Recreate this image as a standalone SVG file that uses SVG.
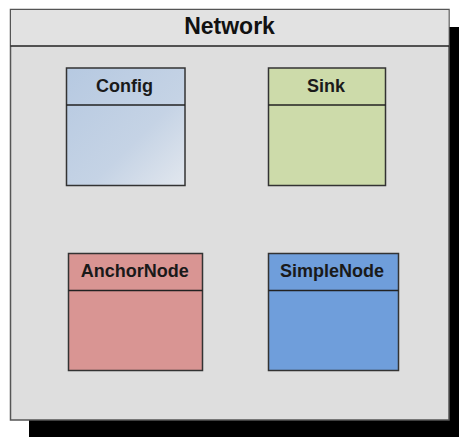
<svg xmlns="http://www.w3.org/2000/svg" width="459" height="437" viewBox="0 0 459 437">
  <defs>
    <linearGradient id="cfgFill" x1="0" y1="0" x2="1" y2="1">
      <stop offset="0" stop-color="#b6c9e1"/>
      <stop offset="0.6" stop-color="#c5d3e5"/>
      <stop offset="1" stop-color="#e2e7ee"/>
    </linearGradient>
  </defs>
  <style>
    .frame { fill: #dedede; stroke: #555; stroke-width: 1.5; }
    .shadow { fill: #000; }
    .box { stroke: #333; stroke-width: 1.5; }
    .sep { stroke: #222; stroke-width: 1.5; }
    .title { font-family: "Liberation Sans", Arial, sans-serif; font-weight: bold; font-size: 23px; fill: #111; text-anchor: middle; }
    .label { font-family: "Liberation Sans", Arial, sans-serif; font-weight: bold; font-size: 18px; fill: #1a1a1a; text-anchor: middle; }
  </style>

  <!-- package frame with drop shadow -->
  <g id="network">
    <rect class="shadow" x="29" y="27" width="440" height="412"/>
    <rect class="frame" x="10.5" y="9.5" width="438.5" height="410.5"/>
    <rect x="11" y="10" width="437.5" height="36" fill="#e2e2e2"/>
    <line class="sep" x1="10.5" y1="46" x2="449" y2="46"/>
    <text class="title" x="229.5" y="34">Network</text>
  </g>

  <g id="config">
    <rect class="box" x="66.5" y="68" width="118.5" height="117.5" fill="url(#cfgFill)"/>
    <line class="sep" x1="66.5" y1="105" x2="185" y2="105"/>
    <text class="label" x="124.5" y="91.5">Config</text>
  </g>

  <g id="sink">
    <rect class="box" x="268.5" y="68" width="117" height="117.5" fill="#cddbaa"/>
    <line class="sep" x1="268.5" y1="105" x2="385.5" y2="105"/>
    <text class="label" x="326" y="91.5">Sink</text>
  </g>

  <g id="anchorNode">
    <rect class="box" x="68.5" y="253.5" width="134" height="117" fill="#d99593"/>
    <line class="sep" x1="68.5" y1="290.5" x2="202.5" y2="290.5"/>
    <text class="label" x="134.7" y="276.5">AnchorNode</text>
  </g>

  <g id="simpleNode">
    <rect class="box" x="268.5" y="253.5" width="130" height="117" fill="#6f9edb"/>
    <line class="sep" x1="268.5" y1="290.5" x2="398.5" y2="290.5"/>
    <text class="label" x="332" y="276.5">SimpleNode</text>
  </g>

  <g id="connectors"/>
</svg>
